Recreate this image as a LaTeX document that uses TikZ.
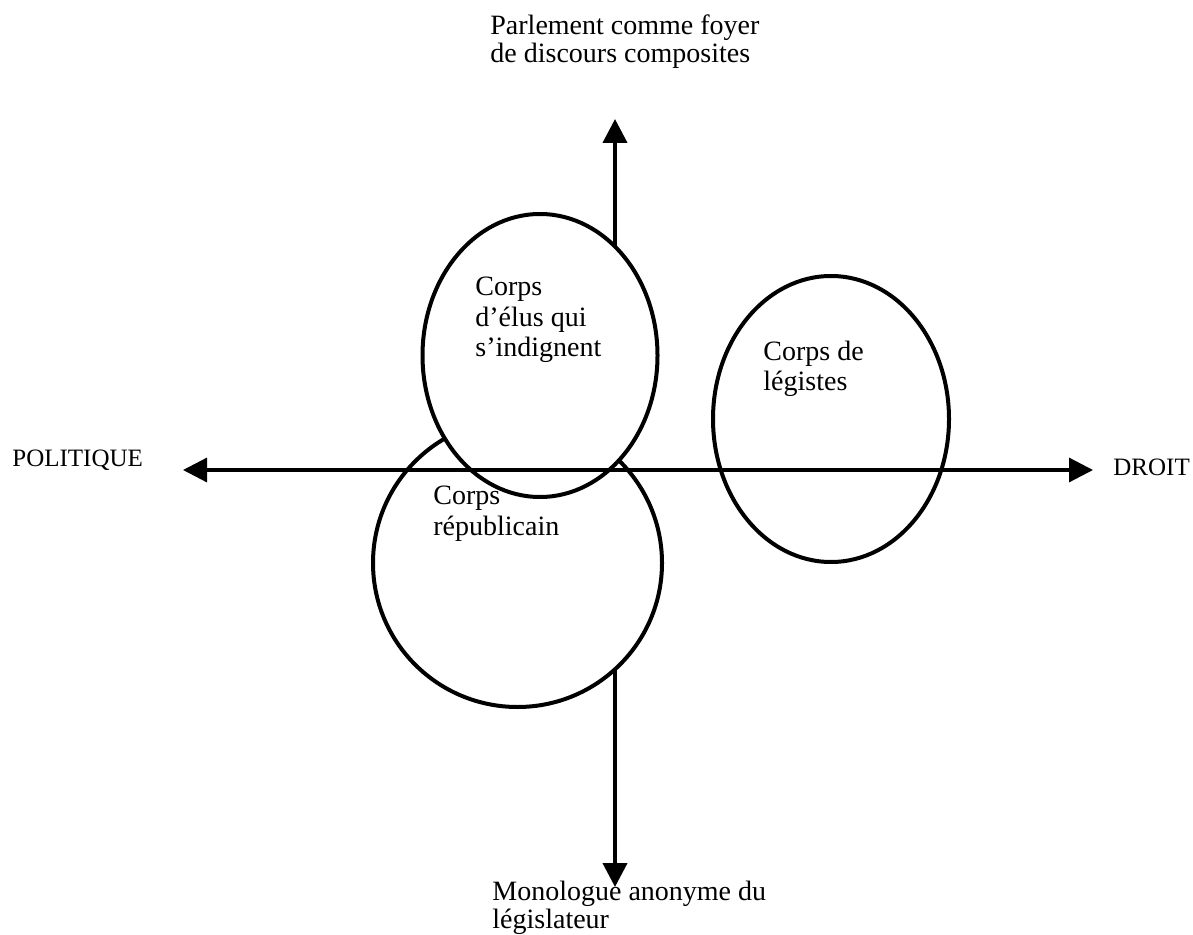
\documentclass[tikz,border=0pt]{standalone}
\usepackage{fontspec}
\setmainfont{Liberation Serif}
\usetikzlibrary{arrows.meta, shapes.geometric}

\begin{document}
\begin{tikzpicture}[x=0.5pt, y=-0.5pt, >={Triangle[length=12pt, width=12pt]},
  bulle/.style={draw, ellipse, fill=white, line width=2pt, inner sep=0pt},
  axe/.style={black, line width=1.6pt, <->},
  txt/.style={anchor=base west, inner sep=0pt, align=left, font=\fontsize{14}{15.25}\selectfont},
  pole/.style={anchor=base west, inner sep=0pt, font=\fontsize{12.5}{15}\selectfont}]

\useasboundingbox (0,0) rectangle (1193,935);

\coordinate (haut) at (615,119);
\coordinate (bas) at (615,887);
\coordinate (gauche) at (183,470);
\coordinate (droite) at (1093,470);

\draw[axe, line width=2pt] (bas) -- (haut); %vertical axis

\node[bulle, minimum width=144.5pt, minimum height=144pt] (repu) at (517.5,563) {}; %circle
\node[bulle, minimum width=117.5pt, minimum height=141.5pt] (elus) at (540,355.5) {};
\node[bulle, minimum width=118pt, minimum height=143pt] (legis) at (831,419) {};

\draw[axe] (gauche) -- (droite); %horizontal axis

% base = baseline of the last line
\node[txt, font=\fontsize{14}{14}\selectfont] (titre) at (490,63) {Parlement comme foyer\\de discours composites};
\node[txt, font=\fontsize{14}{14}\selectfont] (mono) at (492,928) {Monologue anonyme du\\législateur};
\node[pole] (pol) at (12,466) {POLITIQUE};
\node[pole] (droit) at (1113,475) {DROIT};

\node[txt] (t-elus) at (475,357) {Corps\\d’élus qui\\s’indignent};
\node[txt] (t-repu) at (433,535) {Corps\\républicain};
\node[txt] (t-legis) at (763,391) {Corps de\\légistes};

\end{tikzpicture}
\end{document}
